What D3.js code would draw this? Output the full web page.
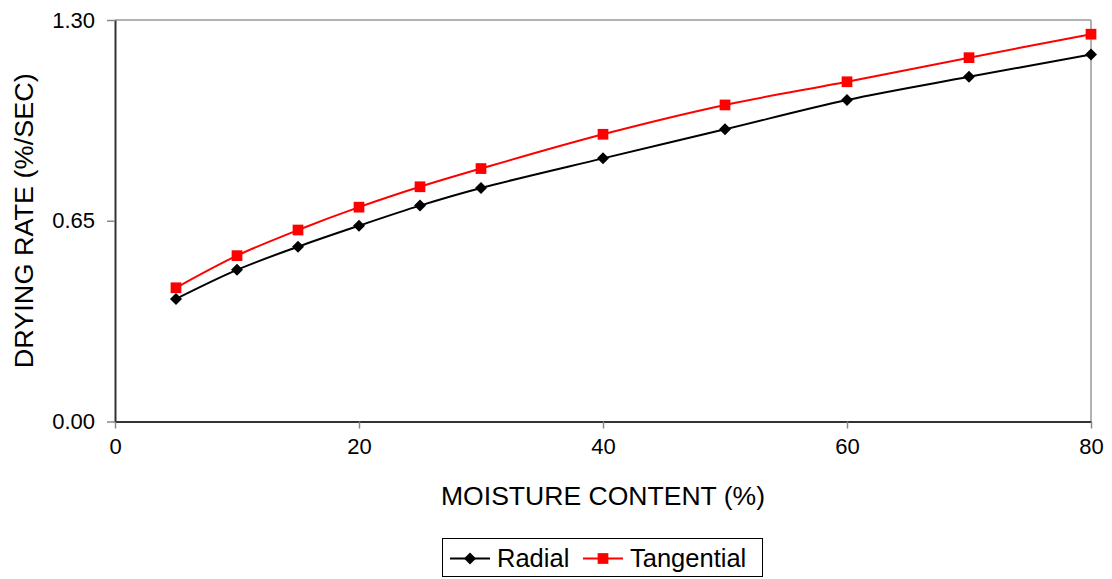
<!DOCTYPE html>
<html>
<head>
<meta charset="utf-8">
<script src="https://cdn.jsdelivr.net/npm/d3@7"></script>
<style>
  body { margin: 0; background: #fff; }
  svg { display: block; font-family: "Liberation Sans", Arial, sans-serif; }
</style>
</head>
<body>
<svg id="chart" width="1112" height="579"></svg>
<script>
// moisture content (%)
var moisture = [5, 10, 15, 20, 25, 30, 40, 50, 60, 70, 80];
// drying rate (%/sec)
var radial = [0.397, 0.491, 0.566, 0.634, 0.699, 0.756, 0.852, 0.946, 1.041, 1.116, 1.188];
var tangential = [0.433, 0.537, 0.620, 0.694, 0.760, 0.819, 0.930, 1.025, 1.100, 1.178, 1.254];
var xTicks = [0, 20, 40, 60, 80];
var yTicks = [0, 0.65, 1.30];

var svg = d3.select("#chart");
// plot area (don't use "top", it's window.top)
var pLeft = 115, pRight = 1091, pTop = 20, pBottom = 421.5;

var x = d3.scaleLinear().domain([0, 80]).range([pLeft, pRight]);
var y = d3.scaleLinear().domain([0, 1.3]).range([pBottom, pTop]);

// frame: grey top/right, dark left/bottom
svg.append("line").attr("x1", pLeft).attr("x2", pRight).attr("y1", pTop).attr("y2", pTop)
    .attr("stroke", "#999").attr("stroke-width", 1.5);
svg.append("line").attr("x1", pRight).attr("x2", pRight).attr("y1", pTop).attr("y2", pBottom)
    .attr("stroke", "#999").attr("stroke-width", 1.5);

var xAxis = svg.append("g").attr("transform", "translate(0," + pBottom + ")")
    .call(d3.axisBottom(x).tickValues(xTicks).tickSize(7).tickPadding(10).tickSizeOuter(0));
var yAxis = svg.append("g").attr("transform", "translate(" + pLeft + ",0)")
    .call(d3.axisLeft(y).tickValues(yTicks).tickSize(8).tickPadding(12).tickSizeOuter(0)
        .tickFormat(d3.format(".2f")));

[xAxis, yAxis].forEach(function(g) {
    g.attr("font-size", null).attr("font-family", null);
    g.select(".domain").attr("stroke", "#333").attr("stroke-width", 2);
    g.selectAll(".tick line").attr("stroke", "#888").attr("stroke-width", 1.5);
    g.selectAll("text").attr("font-size", 22).attr("fill", "#000");
});

// axis titles
svg.append("text").attr("x", (pLeft + pRight) / 2).attr("y", 505)
    .attr("text-anchor", "middle").attr("font-size", 25)
    .attr("textLength", 324).attr("lengthAdjust", "spacingAndGlyphs")
    .text("MOISTURE CONTENT (%)");
svg.append("text").attr("transform", "translate(33," + ((pTop + pBottom) / 2) + ") rotate(-90)")
    .attr("text-anchor", "middle").attr("font-size", 25)
    .attr("textLength", 295).attr("lengthAdjust", "spacingAndGlyphs")
    .text("DRYING RATE (%/SEC)");

var diamond = {
    draw: function(ctx, size) {
        var r = Math.sqrt(size / 2);
        ctx.moveTo(0, -r); ctx.lineTo(r, 0); ctx.lineTo(0, r); ctx.lineTo(-r, 0); ctx.closePath();
    }
};

var series = [
    { name: "Radial", values: radial, color: "#000", shape: diamond, size: 72 },
    { name: "Tangential", values: tangential, color: "#ff0000", shape: d3.symbolSquare, size: 115 }
];

var line = d3.line()
    .x(function(d) { return x(d[0]); })
    .y(function(d) { return y(d[1]); })
    .curve(d3.curveCatmullRom.alpha(0.5));

series.forEach(function(s) {
    var pts = moisture.map(function(m, i) { return [m, s.values[i]]; });
    svg.append("path").datum(pts).attr("d", line)
        .attr("fill", "none").attr("stroke", s.color).attr("stroke-width", 2);
    svg.selectAll(null).data(pts).join("path")
        .attr("transform", function(d) { return "translate(" + x(d[0]) + "," + y(d[1]) + ")"; })
        .attr("d", d3.symbol().type(s.shape).size(s.size))
        .attr("fill", s.color);
});

// legend
var legend = svg.append("g");
legend.append("rect").attr("x", 442.5).attr("y", 538.5).attr("width", 320).attr("height", 38)
    .attr("fill", "#fff").attr("stroke", "#000").attr("stroke-width", 1);
var legendX = [450, 583];
series.forEach(function(s, i) {
    var lx = legendX[i];
    legend.append("line").attr("x1", lx).attr("x2", lx + 40).attr("y1", 558.5).attr("y2", 558.5)
        .attr("stroke", s.color).attr("stroke-width", 2);
    legend.append("path").attr("transform", "translate(" + (lx + 20) + ",558.5)")
        .attr("d", d3.symbol().type(s.shape).size(s.size)).attr("fill", s.color);
    legend.append("text").attr("x", lx + 47).attr("y", 567).attr("font-size", 25.5).text(s.name);
});
</script>
</body>
</html>
